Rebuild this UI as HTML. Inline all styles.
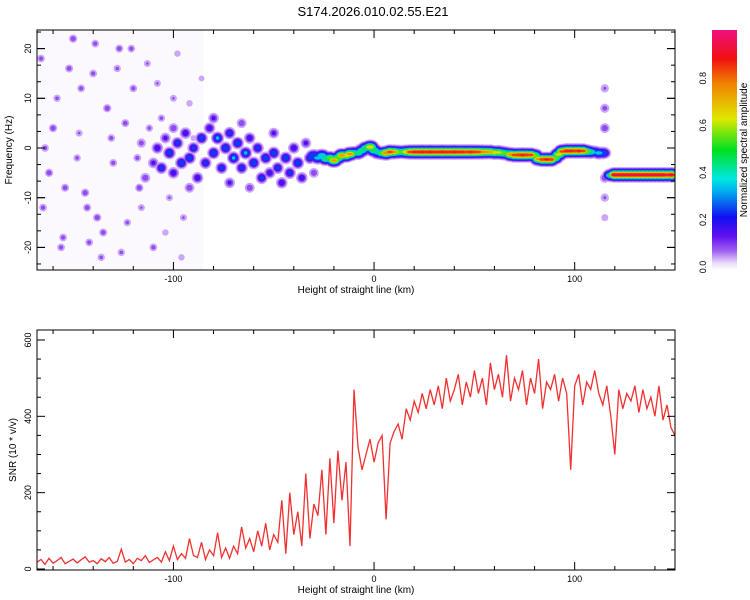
<!DOCTYPE html>
<html><head><meta charset="utf-8"><style>
body{margin:0;background:#fff;}
svg{display:block;font-family:"Liberation Sans",sans-serif;}
</style></head><body>
<svg id="c" width="750" height="600" xmlns="http://www.w3.org/2000/svg">
<defs>
<clipPath id="clipTop"><rect x="37" y="30" width="638" height="240"/></clipPath>
<clipPath id="clipBot"><rect x="37" y="330" width="638" height="240"/></clipPath>
<linearGradient id="cbar" x1="0" y1="1" x2="0" y2="0">
<stop offset="0" stop-color="#ffffff"/><stop offset="0.03" stop-color="#e8d8fa"/><stop offset="0.08" stop-color="#a060f0"/>
<stop offset="0.14" stop-color="#6010f0"/><stop offset="0.22" stop-color="#1010f0"/><stop offset="0.33" stop-color="#00b0f0"/>
<stop offset="0.38" stop-color="#00e8e0"/><stop offset="0.5" stop-color="#00e020"/><stop offset="0.63" stop-color="#e0e800"/>
<stop offset="0.78" stop-color="#f08000"/><stop offset="0.88" stop-color="#f01010"/><stop offset="1" stop-color="#f01080"/>
</linearGradient>
</defs>
<text x="373" y="16" font-size="13" text-anchor="middle">S174.2026.010.02.55.E21</text>
<g id="topG" clip-path="url(#clipTop)"></g>
<g id="botG" clip-path="url(#clipBot)"></g>
<g id="axes"></g>
<rect x="712" y="30" width="25" height="240" fill="url(#cbar)"/>
<text transform="translate(747,150) rotate(-90)" font-size="10" text-anchor="middle">Normalized spectral amplitude</text>
<text transform="translate(12,150) rotate(-90)" font-size="10" text-anchor="middle">Frequency (Hz)</text>
<text x="356" y="293" font-size="10" text-anchor="middle">Height of straight line (km)</text>
<text transform="translate(16,450) rotate(-90)" font-size="10" text-anchor="middle">SNR (10 * v/v)</text>
<text x="356" y="593" font-size="10" text-anchor="middle">Height of straight line (km)</text>
</svg>
<script>
const snrStart = -168, snrStep = 2;
const snrValues = [
18,25,12,28,15,22,30,14,20,26,
16,24,32,18,22,14,27,19,30,15,
20,52,18,25,14,28,22,35,17,24,
30,18,45,22,60,25,40,28,80,35,
30,70,25,50,35,95,30,55,28,60,
40,110,55,80,45,100,60,120,50,90,
70,180,40,200,90,150,60,250,80,170,
140,260,90,290,120,310,180,280,60,470,
320,260,300,340,280,330,350,130,330,360,
380,340,420,390,440,410,460,420,470,430,
480,420,500,440,470,510,430,490,450,520,
460,500,430,540,470,510,450,560,440,500,
470,520,430,500,460,550,420,490,470,510,
440,500,460,260,480,510,430,490,470,520,
460,430,480,400,300,470,420,460,440,480,
410,470,420,450,400,480,390,430,370,350];
const ridgeKm = [
-30,-28,-26,-24,-22,-20,-18,-16,-14,-12,
-10,-8,-6,-4,-2,0,2,4,6,8,
10,12,14,16,18,20,22,24,26,28,
30,32,34,36,38,40,42,44,46,48,
50,52,54,56,58,60,62,64,66,68,
70,72,74,76,78,80,82,84,86,88,
90,92,94,96,98,100,102,104,106,108,
110,112,114,118,120,122,124,126,128,130,
132,134,136,138,140,142,144,146,148];
const ridgeHz = [
-1.5,-2,-1.5,-2.2,-2,-2.5,-2,-1.5,-1.5,-1.2,
-1,-1,-0.5,0,0.2,-0.5,-1,-1,-1,-0.8,
-0.8,-0.8,-0.8,-0.8,-0.8,-0.8,-0.8,-0.8,-0.8,-0.8,
-0.8,-0.8,-0.8,-0.8,-0.8,-0.8,-0.8,-0.8,-0.8,-0.8,
-0.8,-0.8,-0.8,-0.8,-0.8,-0.9,-0.9,-1,-1.1,-1.3,
-1.4,-1.4,-1.4,-1.4,-1.4,-1.5,-2.2,-2.3,-2.3,-2.3,
-2,-1.3,-0.7,-0.6,-0.6,-0.6,-0.6,-0.6,-0.7,-0.8,
-0.8,-1,-1,-5.5,-5.4,-5.4,-5.4,-5.4,-5.4,-5.4,
-5.4,-5.4,-5.4,-5.4,-5.4,-5.4,-5.4,-5.4,-5.4];
const ridgeAmp = [
0.3,0.35,0.4,0.5,0.55,0.75,0.6,0.75,0.7,0.75,
0.5,0.45,0.45,0.5,0.7,0.5,0.35,0.55,0.8,0.85,
0.75,0.6,0.55,0.7,0.85,0.9,0.9,0.92,0.9,0.92,
0.9,0.9,0.92,0.9,0.9,0.92,0.9,0.9,0.88,0.9,
0.88,0.85,0.8,0.75,0.72,0.68,0.65,0.6,0.55,0.75,
0.85,0.88,0.9,0.88,0.85,0.6,0.75,0.88,0.9,0.88,
0.6,0.65,0.85,0.9,0.9,0.88,0.9,0.85,0.6,0.45,
0.3,0.35,0.3,0.45,0.95,0.95,0.95,0.95,0.95,0.95,
0.95,0.95,0.95,0.95,0.95,0.95,0.95,0.9,0.95];
const blobKm  = [-110,-108,-106,-104,-102,-100,-98,-96,-94,-92,-90,-88,-86,-84,-82,-80,-78,-76,-74,-72,-70,-68,-66,-64,-62,-60,-58,-56,-54,-52,-50,-48,-46,-44,-42,-40,-38,-36,-34,-32,-114,-116,-92,-72,-62,-50,-100,-80,-66,-30,115,115,115,115,115,115,113];
const blobHz  = [-3,0,-4,2,-1,-5,1,-3,3,-2,0,-6,2,-3,4,-1,2,-4,0,3,-2,1,-4,-1,2,-3,0,-6,-2,-5,-1,-4,-7,-2,-5,0,-3,-6,1,-2,-6,1,-8,-7,-8,3,4,6,5,-5,8,12,4,-6,-10,-14,-1];
const blobAmp = [0.15,0.2,0.25,0.15,0.3,0.2,0.25,0.3,0.2,0.3,0.25,0.2,0.3,0.25,0.2,0.3,0.35,0.25,0.3,0.25,0.35,0.3,0.25,0.35,0.2,0.3,0.25,0.25,0.3,0.2,0.3,0.25,0.2,0.3,0.25,0.2,0.3,0.2,0.15,0.25,0.12,0.1,0.12,0.15,0.12,0.15,0.12,0.15,0.12,0.12,0.1,0.08,0.12,0.12,0.08,0.06,0.2];
const noiseKm = [-166,-162,-158,-155,-150,-147,-143,-140,-136,-133,-130,-127,-123,-120,-117,-113,-110,-106,-102,-98,-95,-92,-89,-86,-165,-160,-156,-152,-148,-144,-139,-135,-131,-126,-121,-116,-112,-108,-104,-100,-96,-90,-164,-154,-146,-138,-128,-118,-124,-142];
const noiseHz = [18,-5,10,-18,22,3,-12,15,-22,8,-3,20,-15,12,-8,17,-20,6,-10,19,-14,9,-6,14,-12,4,-20,16,-2,-9,21,-17,2,-21,20,-12,4,13,-17,10,-22,2,0,-8,12,-14,16,-2,5,-19];
const noiseAmp= [0.1,0.12,0.09,0.1,0.12,0.08,0.11,0.1,0.09,0.12,0.1,0.11,0.09,0.1,0.12,0.08,0.1,0.09,0.08,0.07,0.08,0.07,0.06,0.06,0.1,0.12,0.1,0.11,0.09,0.12,0.1,0.11,0.1,0.09,0.1,0.08,0.09,0.08,0.07,0.08,0.07,0.06,0.1,0.11,0.1,0.12,0.09,0.1,0.11,0.1];
const xTicks = [-100, 0, 100];
const topYTicks = [-20, -10, 0, 10, 20];
const botYTicks = [0, 200, 400, 600];
const cbTicks = [0.0, 0.2, 0.4, 0.6, 0.8];

const NS = "http://www.w3.org/2000/svg";
const X0 = 37, X1 = 675, KM0 = -168, KM1 = 150;
const xs = v => X0 + (v - KM0) / (KM1 - KM0) * (X1 - X0);
const yTop = v => 148 - v * 4.97;
const yBot = v => 569 - v * 0.3817;
const yCb = v => 267 - v * 236;
function mk(tag, attrs, parent) { const e = document.createElementNS(NS, tag); for (const k in attrs) e.setAttribute(k, attrs[k]); parent.appendChild(e); return e; }
const stops = [[0,[255,255,255]],[0.03,[232,216,250]],[0.08,[160,96,240]],[0.14,[96,16,240]],[0.22,[16,16,240]],[0.33,[0,176,240]],[0.38,[0,232,224]],[0.5,[0,224,32]],[0.63,[224,232,0]],[0.78,[240,128,0]],[0.88,[240,16,16]],[1,[240,16,128]]];
function cmap(v){ for(let i=1;i<stops.length;i++){ if(v<=stops[i][0]){ const a=stops[i-1],b=stops[i],t=(v-a[0])/(b[0]-a[0]); return 'rgb('+a[1].map((c,j)=>Math.round(c+(b[1][j]-c)*t)).join(',')+')'; } } return 'rgb(240,16,128)'; }

const topG = document.getElementById('topG');
const levels = [0.03,0.07,0.12,0.2,0.3,0.4,0.5,0.6,0.7,0.8,0.88];
const haze = mk('rect',{x:xs(-168),y:30,width:xs(-85)-xs(-168),height:240,fill:'#fbf8fe'},topG);


const pts = [];
function addPts(kmA, hzA, ampA, s, r, n){
  const N = Math.min(kmA.length, hzA.length, ampA.length);
  for (let i=0;i<N;i++) pts.push({x:xs(kmA[i]),y:yTop(hzA[i]),a:ampA[i],s:s,r:r,n:n});
}
addPts(noiseKm, noiseHz, noiseAmp, 2.5, 0, 'noise-speckle');
addPts(blobKm, blobHz, blobAmp, 3, 0, 'spectral-blob');
addPts(ridgeKm, ridgeHz, ridgeAmp, 3, 2, 'ridge-point');
levels.forEach((t,li)=>{
  const col = cmap(Math.min(1, t + (li<levels.length-1 ? (levels[li+1]-t)*0.5 : 0.05)));
  pts.forEach(p=>{
    if (!(p.a > t)) return;
    const ry = p.s*Math.sqrt(2*Math.log(p.a/t));
    const e = mk('ellipse',{cx:p.x,cy:p.y,rx:ry+p.r,ry:ry,fill:col},topG);
    
    
  });
});

const botG = document.getElementById('botG');
let d = '';
snrValues.forEach((v,i)=>{ d += (i?'L':'M') + xs(snrStart + i*snrStep).toFixed(1) + ',' + yBot(v).toFixed(1); });
const line = mk('path',{d:d,fill:'none',stroke:'#f03030','stroke-width':1.3},botG);



const ax = document.getElementById('axes');
function frame(y0,y1,yf,yt,minorY,name){
  const r = mk('rect',{x:X0,y:y0,width:X1-X0,height:y1-y0,fill:'none',stroke:'#000','stroke-width':1},ax);
  
  
  for (let k=-160;k<=140;k+=20){
    const x=xs(k), L=(k%100===0)?8:4;
    mk('line',{x1:x,y1:y1,x2:x,y2:y1-L,stroke:'#000'},ax);
    mk('line',{x1:x,y1:y0,x2:x,y2:y0+L,stroke:'#000'},ax);
  }
  xTicks.forEach(k=>{ const t=mk('text',{x:xs(k),y:y1+12,'font-size':9,'text-anchor':'middle'},ax); t.textContent=k;
      });
  minorY.forEach(v=>{ const y=yf(v); if(y<y0||y>y1) return; const L=yt.includes(v)?8:4;
    mk('line',{x1:X0,y1:y,x2:X0+L,y2:y,stroke:'#000'},ax); mk('line',{x1:X1,y1:y,x2:X1-L,y2:y,stroke:'#000'},ax); });
  yt.forEach(v=>{ const t=mk('text',{transform:'translate(31,'+yf(v)+') rotate(-90)','font-size':9,'text-anchor':'middle'},ax); t.textContent=v;
      });
}
const topMinor=[]; for(let v=-30;v<=30;v+=10/3) topMinor.push(Math.round(v*1000)/1000);
topYTicks.forEach(v=>topMinor.push(v));
frame(30,270,yTop,topYTicks,topMinor,'top-plot');
const botMinor=[]; for(let v=0;v<=650;v+=50) botMinor.push(v);
frame(330,570,yBot,botYTicks,botMinor,'bottom-plot');
cbTicks.forEach(v=>{
  const t=mk('text',{transform:'translate(706,'+yCb(v)+') rotate(-90)','font-size':9,'text-anchor':'middle'},ax); t.textContent=v.toFixed(1);
   
  mk('line',{x1:712,y1:yCb(v),x2:716,y2:yCb(v),stroke:'#000','stroke-width':0.5},ax);
});
</script>
</body></html>
